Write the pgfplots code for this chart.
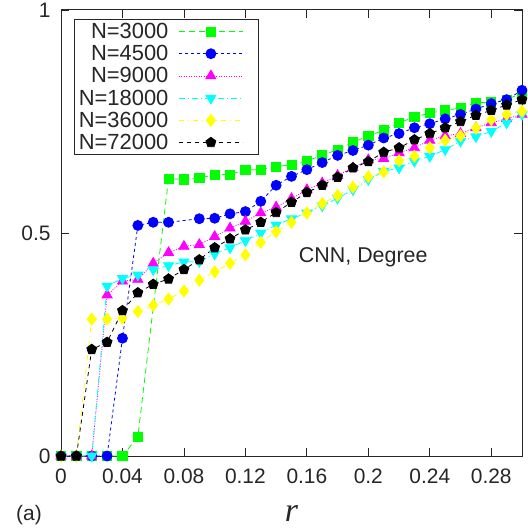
\documentclass[border=0pt]{standalone}
\usepackage{fontspec}
\setmainfont{Liberation Sans}
\newfontfamily\seriffont{Liberation Serif}
\usepackage{pgfplots}
\pgfplotsset{compat=1.18}
\definecolor{grC}{RGB}{0,255,0}
\definecolor{blC}{RGB}{0,0,255}
\definecolor{mgC}{RGB}{255,0,255}
\definecolor{cyC}{RGB}{0,255,255}
\definecolor{yeC}{RGB}{255,255,0}
\newcommand{\bigf}{\fontsize{21}{25}\selectfont}
\newcommand{\legf}{\fontsize{22}{25}\selectfont}
\begin{document}
\begin{tikzpicture}
\begin{axis}[
  scale only axis,
  width=461bp, height=446bp,
  xmin=0, xmax=0.3, ymin=0, ymax=1,
  xtick={0,0.04,0.08,0.12,0.16,0.2,0.24,0.28},
  xticklabels={0,0.04,0.08,0.12,0.16,0.2,0.24,0.28},
  ytick={0,0.5,1}, yticklabels={0,0.5,1},
  tick align=inside,
  major tick length=8bp,
  axis line style={line width=1bp, black!85},
  every tick/.style={black!85, line width=0.8bp},
  tick label style={font=\bigf, text=black!85},
  xticklabel style={yshift=-9bp},
  yticklabel style={xshift=-7bp},
  clip=false,
  legend style={at={(axis description cs:0.0289,0.9798)}, anchor=north west,
    draw=black!85, line width=1bp, text=black!85,
    row sep=0.2bp, inner xsep=2bp, inner ysep=1bp,
    nodes={inner xsep=2bp, inner ysep=3bp, text height=15bp, text depth=1bp, font=\legf}},
  legend cell align=right,
  legend plot pos=right,
  legend image code/.code={\path[draw=none,fill=none] (0bp,0bp) -- (86bp,0bp); \draw[mark repeat=2,mark phase=2,#1] plot coordinates {(8.5bp,0bp) (40.5bp,0bp) (72.5bp,0bp)};},
]
\addplot[grC, line width=0.8bp, dash pattern=on 6bp off 4bp, mark=square*, mark size=4.6bp, mark options={solid}] coordinates {
(0,0) (0.01,0) (0.02,0) (0.03,0) (0.04,0) (0.05,0.043) (0.07,0.622) (0.08,0.620) (0.09,0.623) (0.10,0.631)
(0.11,0.631) (0.12,0.642) (0.13,0.642) (0.14,0.649) (0.15,0.653) (0.16,0.662) (0.17,0.674) (0.18,0.687) (0.19,0.703) (0.20,0.718)
(0.21,0.730) (0.22,0.747) (0.23,0.760) (0.24,0.769) (0.25,0.775) (0.26,0.780) (0.27,0.792) (0.28,0.793) (0.29,0.799) (0.30,0.814)};
\addlegendentry{N=3000}
\addplot[blC, line width=0.8bp, dash pattern=on 3bp off 3bp, mark=*, mark size=5bp, mark options={solid}] coordinates {
(0,0) (0.01,0) (0.02,0) (0.03,0) (0.04,0.264) (0.05,0.517) (0.06,0.524) (0.07,0.524) (0.09,0.532) (0.10,0.533)
(0.11,0.543) (0.12,0.548) (0.13,0.571) (0.14,0.607) (0.15,0.627) (0.16,0.642) (0.17,0.658) (0.18,0.674) (0.19,0.685) (0.20,0.697)
(0.21,0.713) (0.22,0.723) (0.23,0.736) (0.24,0.745) (0.25,0.756) (0.26,0.766) (0.27,0.778) (0.28,0.790) (0.29,0.799) (0.30,0.820)};
\addlegendentry{N=4500}
\addplot[mgC, line width=0.8bp, dash pattern=on 1bp off 1.5bp, mark=triangle*, mark size=5.8bp, mark options={solid}] coordinates {
(0,0) (0.01,0) (0.02,0) (0.03,0.361) (0.04,0.392) (0.05,0.396) (0.06,0.432) (0.07,0.456) (0.08,0.470) (0.09,0.474) (0.10,0.492)
(0.11,0.511) (0.12,0.526) (0.13,0.545) (0.14,0.558) (0.15,0.577) (0.16,0.597) (0.17,0.612) (0.18,0.629) (0.19,0.646) (0.20,0.664)
(0.21,0.667) (0.22,0.680) (0.23,0.691) (0.24,0.708) (0.25,0.718) (0.26,0.723) (0.27,0.736) (0.28,0.747) (0.29,0.756) (0.30,0.766)};
\addlegendentry{N=9000}
\addplot[cyC, line width=0.8bp, dash pattern=on 6bp off 3bp on 1bp off 3bp, mark=triangle*, mark size=5.8bp, mark options={solid, rotate=180}] coordinates {
(0,0) (0.01,0) (0.02,0) (0.03,0.381) (0.04,0.398) (0.05,0.406) (0.06,0.418) (0.07,0.427) (0.08,0.435) (0.09,0.436) (0.10,0.453)
(0.11,0.467) (0.12,0.483) (0.13,0.500) (0.14,0.518) (0.15,0.532) (0.16,0.545) (0.17,0.561) (0.18,0.578) (0.19,0.597) (0.20,0.620)
(0.21,0.638) (0.22,0.646) (0.23,0.661) (0.24,0.672) (0.25,0.687) (0.26,0.706) (0.27,0.716) (0.28,0.728) (0.29,0.747) (0.30,0.766)};
\addlegendentry{N=18000}
\addplot[yeC, line width=0.8bp, dash pattern=on 5bp off 4bp on 1bp off 4bp, mark=diamond*, mark size=6bp, mark options={solid}] coordinates {
(0,0) (0.01,0) (0.02,0.307) (0.03,0.307) (0.04,0.309) (0.05,0.324) (0.06,0.338) (0.07,0.352) (0.08,0.370) (0.09,0.394) (0.10,0.413)
(0.11,0.432) (0.12,0.451) (0.13,0.479) (0.14,0.503) (0.15,0.524) (0.16,0.545) (0.17,0.566) (0.18,0.584) (0.19,0.603) (0.20,0.626)
(0.21,0.637) (0.22,0.662) (0.23,0.672) (0.24,0.691) (0.25,0.708) (0.26,0.718) (0.27,0.735) (0.28,0.754) (0.29,0.766) (0.30,0.773)};
\addlegendentry{N=36000}
\addplot[black, line width=0.8bp, dash pattern=on 4bp off 4bp, mark=pentagon*, mark size=5.2bp, mark options={solid}] coordinates {
(0,0) (0.01,0) (0.02,0.239) (0.03,0.255) (0.04,0.326) (0.05,0.366) (0.06,0.385) (0.07,0.397) (0.08,0.418) (0.09,0.440) (0.10,0.467)
(0.11,0.487) (0.12,0.507) (0.13,0.524) (0.14,0.546) (0.15,0.569) (0.16,0.591) (0.17,0.607) (0.18,0.625) (0.19,0.646) (0.20,0.660)
(0.21,0.681) (0.22,0.691) (0.23,0.709) (0.24,0.723) (0.25,0.736) (0.26,0.750) (0.27,0.764) (0.28,0.775) (0.29,0.787) (0.30,0.799)};
\addlegendentry{N=72000}
\node[anchor=base, font=\fontsize{21.5}{25}\selectfont, text=black!85] at (axis cs:0.1967,0.434) {CNN, Degree};
\node[anchor=base west, inner sep=0pt, xshift=-45bp, yshift=-64bp, font=\bigf, text=black!85] at (rel axis cs:0,0) {(a)};
\node[anchor=base, inner sep=0pt, yshift=-65.5bp, font={\seriffont\itshape\fontsize{34}{36}\selectfont}, text=black!85] at (rel axis cs:0.5,0) {r};
\coordinate (O) at (rel axis cs:0,0);
\coordinate (T) at (rel axis cs:1,1);
\end{axis}
\pgfresetboundingbox
\path ([xshift=-61bp,yshift=-71.3bp]O) rectangle ([xshift=6bp,yshift=10bp]T);
\end{tikzpicture}
\end{document}
